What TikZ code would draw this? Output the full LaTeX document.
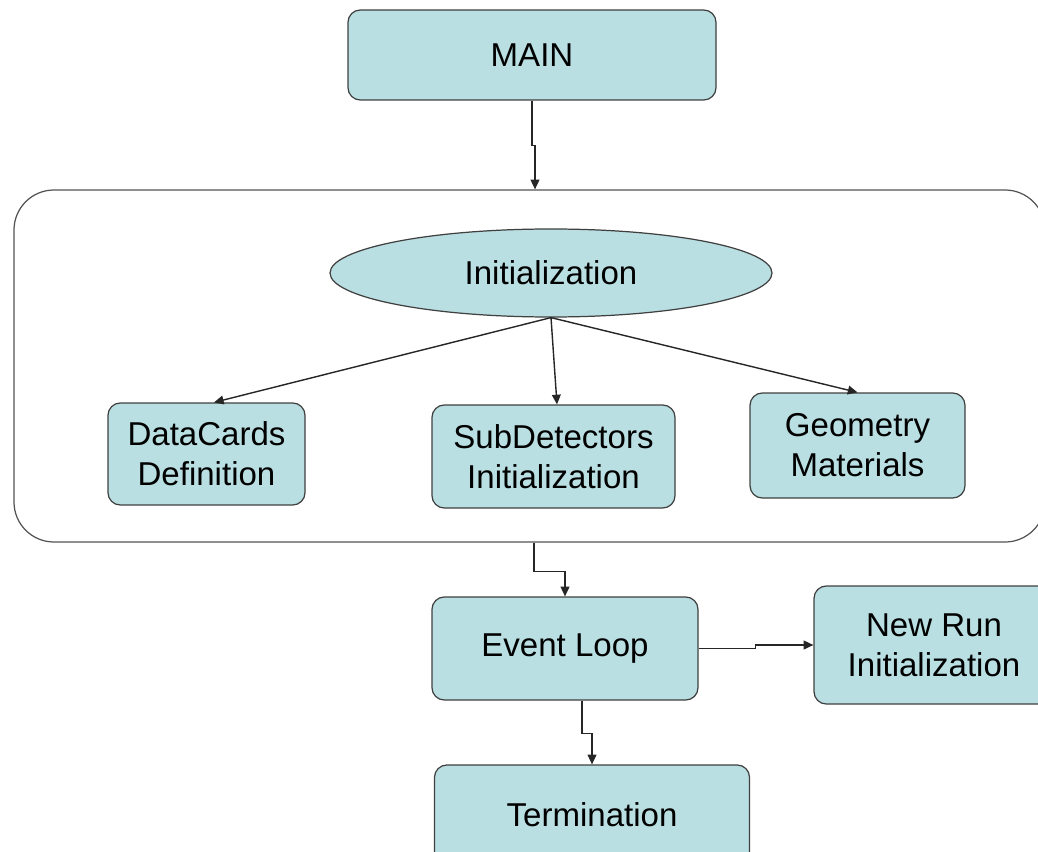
\documentclass[tikz,border=0pt]{standalone}
\usepackage{fontspec}
\setmainfont{Liberation Sans}
\usepackage{xcolor}
\definecolor{boxfill}{RGB}{185, 223, 226}
\definecolor{boxline}{RGB}{64, 64, 64}
\usepackage{tikz}
\usetikzlibrary{arrows.meta, positioning, shapes.geometric, calc}
\tikzset{
  block/.style={
    rectangle, rounded corners=7pt,
    draw=boxline, fill=boxfill, line width=0.7pt,
    font=\fontsize{18.8}{22.8}\selectfont, align=center,
    inner sep=0pt, minimum width=#1
  },
  oval/.style={
    ellipse, draw=boxline, fill=boxfill, line width=0.7pt,
    font=\fontsize{18.8}{22.8}\selectfont,
    minimum width=8.84cm, minimum height=1.76cm, inner sep=0pt
  },
  bigbox/.style={
    rectangle, rounded corners=0.8cm,
    draw=boxline!90, line width=0.7pt,
    minimum width=20.62cm, minimum height=7.04cm, inner sep=0pt
  },
  flow/.style={draw=black!85, line width=0.8pt, -{Triangle[length=5.5pt,width=5pt]}}
}
\begin{document}
\begin{tikzpicture}
\clip (0,0) rectangle (20.76,-17.04);
% Level 0
\node[block=7.36cm, minimum height=1.80cm] (main) at (10.64,-1.10) {MAIN};
% Level 1 - initialization group
\node[bigbox] (group) at (10.59,-7.32) {};
\node[oval] (init) at (11.02,-5.46) {Initialization};
% Level 2 - initialization steps
\node[block=3.94cm, minimum height=2.04cm] (dc)  at (4.13,-9.08)  {DataCards\\Definition};
\node[block=4.86cm, minimum height=2.06cm] (sub) at (11.07,-9.13) {SubDetectors\\Initialization};
\node[block=4.30cm, minimum height=2.10cm] (geo) at (17.15,-8.91) {Geometry\\Materials};
% Level 3 - run
\node[block=5.32cm, minimum height=2.06cm] (evt)    at (11.30,-12.97) {Event Loop};
\node[block=4.80cm, minimum height=2.36cm] (newrun) at (18.68,-12.90) {New Run\\Initialization};
\node[block=6.30cm, minimum height=2.00cm] (term)   at (11.84,-16.30) {Termination};
% Main connections
\draw[flow] (main.south) -- ++(0,-0.9) -| ($(group.north)+(0.11,0)$);
\draw[flow] ($(group.south)+(0.09,0)$) -- ++(0,-0.58) -| (evt.north);
% Initialization connections
\draw[flow] (init.south) -- ($(dc.north)+(0.15,0)$);
\draw[flow] (init.south) -- ($(sub.north)+(0.07,0)$);
\draw[flow] (init.south) -- (geo.north);
% Event loop connections
\draw[flow] (evt.east) -- ++(1.14,0) |- (newrun.west);
\draw[flow] ($(evt.south)+(0.34,0)$) -- ++(0,-0.66) -| (term.north);
\end{tikzpicture}
\end{document}
